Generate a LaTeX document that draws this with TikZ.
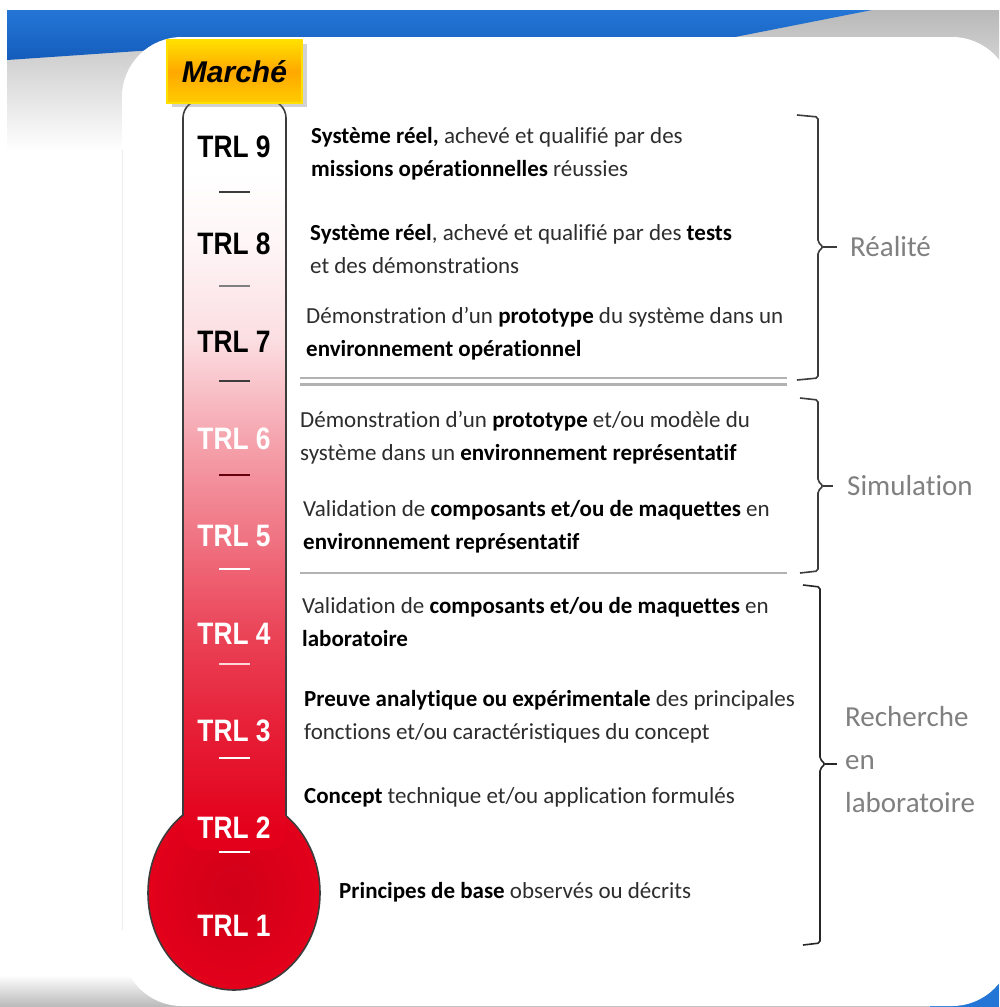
\documentclass[tikz,border=0pt]{standalone}
\usepackage{fontspec}
\setmainfont{Carlito}[Ligatures=NoCommon]
\newfontfamily\trlfont[FakeStretch=0.85]{Liberation Sans}
\newfontfamily\marchefont{Liberation Sans}
\usetikzlibrary{shadows}

\definecolor{bandblue}{RGB}{36,118,214}
\definecolor{bandbluedark}{RGB}{20,92,188}
\definecolor{trlred}{RGB}{227,0,27}
\definecolor{trlreddark}{RGB}{208,0,24}
\definecolor{outline}{RGB}{60,60,60}
\definecolor{bodytext}{RGB}{45,45,45}
\definecolor{phasegray}{RGB}{128,128,128}
\definecolor{rulegray}{RGB}{178,178,178}
\definecolor{marchetop}{RGB}{255,224,0}
\definecolor{marchemid}{RGB}{255,168,0}
\definecolor{marchebot}{RGB}{255,204,0}
\colorlet{red88}{trlred!88!white}
\colorlet{red75}{trlred!74!white}
\colorlet{red55}{trlred!55!white}
\colorlet{red38}{trlred!36!white}
\colorlet{red13}{trlred!13!white}
\colorlet{red04}{trlred!4!white}

% tube colour, white at the top, full red at the bulb
\pgfdeclareverticalshading{tubefill}{100bp}{color(0bp)=(trlred); color(26.3bp)=(trlred);
  color(33bp)=(red88); color(39.3bp)=(red75); color(45.7bp)=(red55); color(52.3bp)=(red38);
  color(59bp)=(red13); color(65.3bp)=(red04); color(70.3bp)=(white); color(100bp)=(white)}

\newcommand{\kw}[1]{\textbf{\color{black}#1}}

\begin{document}
\begin{tikzpicture}
		[x=1pt, y=-1pt,
		desc/.style={anchor=west, inner sep=0pt, align=left, text=bodytext, font=\fontsize{23}{33}\selectfont},
		trl/.style={inner sep=0pt, font=\trlfont\bfseries\fontsize{31}{31}\selectfont},
		phase/.style={anchor=west, inner sep=0pt, align=left, text=phasegray, font=\fontsize{29}{43}\selectfont},
		marche/.style={minimum width=135pt, minimum height=63pt, inner sep=0pt, draw=marchetop, line width=1.5pt,
			top color=marchetop, bottom color=marchebot, middle color=marchemid,
			drop shadow={opacity=0.35, shadow xshift=5pt, shadow yshift=-4pt},
			font=\marchefont\bfseries\itshape\fontsize{30}{30}\selectfont},
		tick/.style={line width=2pt},
		bracket/.style={draw=outline, line width=1.6pt, rounded corners=2pt},
		rule/.style={draw=rulegray, line width=2.5pt}]
		\useasboundingbox (0,0) rectangle (999,1007);
		% background swoosh
		\fill[white] (0,0) rectangle (999,1007);
		\shade[top color=gray!55, bottom color=white] (7,10) rectangle (999,150);
		\shade[top color=bandblue, bottom color=bandbluedark] (7,10) -- (872,10) -- (730,38) -- (300,40) -- (7,60) -- cycle;
		\shade[top color=white, bottom color=gray!55] (0,975) rectangle (999,1007);
		\fill[bandblue] (930,930) rectangle (999,1007);
		% card
		\fill[white, rounded corners=60pt] (122,37) rectangle (1012,1006);
		\draw[gray!15, line width=1pt] (122,150) -- (122,930);
		% thermometer
		\shade[draw=outline, line width=1.6pt, inner color=trlreddark, outer color=trlred] (234,893) ellipse [x radius=86, y radius=97];
		\shade[shading=tubefill, rounded corners=18pt] (183,850) rectangle (286,100);
		\draw[outline, line width=1.6pt, rounded corners=18pt] (183,816) -- (183,100) -- (286,100) -- (286,816);
		\node[marche] (marche) at (234.5,71.5) {Marché};
		% levels
		\foreach \n/\c [count=\i from 0] in {9/black,8/black,7/black,6/white,5/white,4/white,3/white,2/white,1/white}
			\node[trl, text=\c] (trl\n) at (234,{147+97.3*\i}) {TRL \n};
		\foreach \c [count=\i from 0] in {outline,gray,outline,trlred!45!black,white,white!85!red,white,white}
			\draw[tick, \c] (219,{192+94.3*\i}) -- (250,{192+94.3*\i});
		% descriptions
		\node[desc] (d9) at (311,154) {\kw{Système réel,} achevé et qualifié par des\\\kw{missions opérationnelles} réussies};
		\node[desc] (d8) at (310,249) {\kw{Système réel}, achevé et qualifié par des \kw{tests}\\et des démonstrations};
		\node[desc] (d7) at (306,334) {Démonstration d’un \kw{prototype} du système dans un\\\kw{environnement opérationnel}};
		\node[desc] (d6) at (300,438) {Démonstration d’un \kw{prototype} et/ou modèle du\\système dans un \kw{environnement représentatif}};
		\node[desc] (d5) at (303,527) {Validation de \kw{composants et/ou de maquettes} en\\\kw{environnement représentatif}};
		\node[desc] (d4) at (302,622) {Validation de \kw{composants et/ou de maquettes} en\\\kw{laboratoire}};
		\node[desc] (d3) at (304,717) {\kw{Preuve analytique ou expérimentale} des principales\\fonctions et/ou caractéristiques du concept};
		\node[desc] (d2) at (304,797) {\kw{Concept} technique et/ou application formulés};
		\node[desc] (d1) at (339,892) {\kw{Principes de base} observés ou décrits};
		\draw[rule] (300,378) -- (787,378);
		\draw[rule] (300,384.5) -- (787,384.5);
		\draw[rule] (300,573) -- (787,573);
		% phases
		\node[phase] (real) at (850,247) {Réalité};
		\node[phase] (simu) at (847,486) {Simulation};
		\node[phase] (labo) at (845,760) {Recherche\\en\\laboratoire};
		\draw[bracket] (797,115) -- (818,117) -- (818,242) -- (823,247) -- (818,252) -- (818,378) -- (797,380);
		\draw[bracket] (823,247) -- ([xshift=-13pt]real.west);
		\draw[bracket] (800,398) -- (818,400) -- (818,481) -- (823,486) -- (818,491) -- (818,571) -- (800,573);
		\draw[bracket] (823,486) -- ([xshift=-14pt]simu.west);
		\draw[bracket, draw=black!85] (803,585) -- (820,587) -- (820,759) -- (825,764) -- (820,769) -- (820,943) -- (803,945);
		\draw[bracket, draw=black!85] (825,764) -- ([xshift=-8pt]labo.west |- 0,764);
\end{tikzpicture}
\end{document}
